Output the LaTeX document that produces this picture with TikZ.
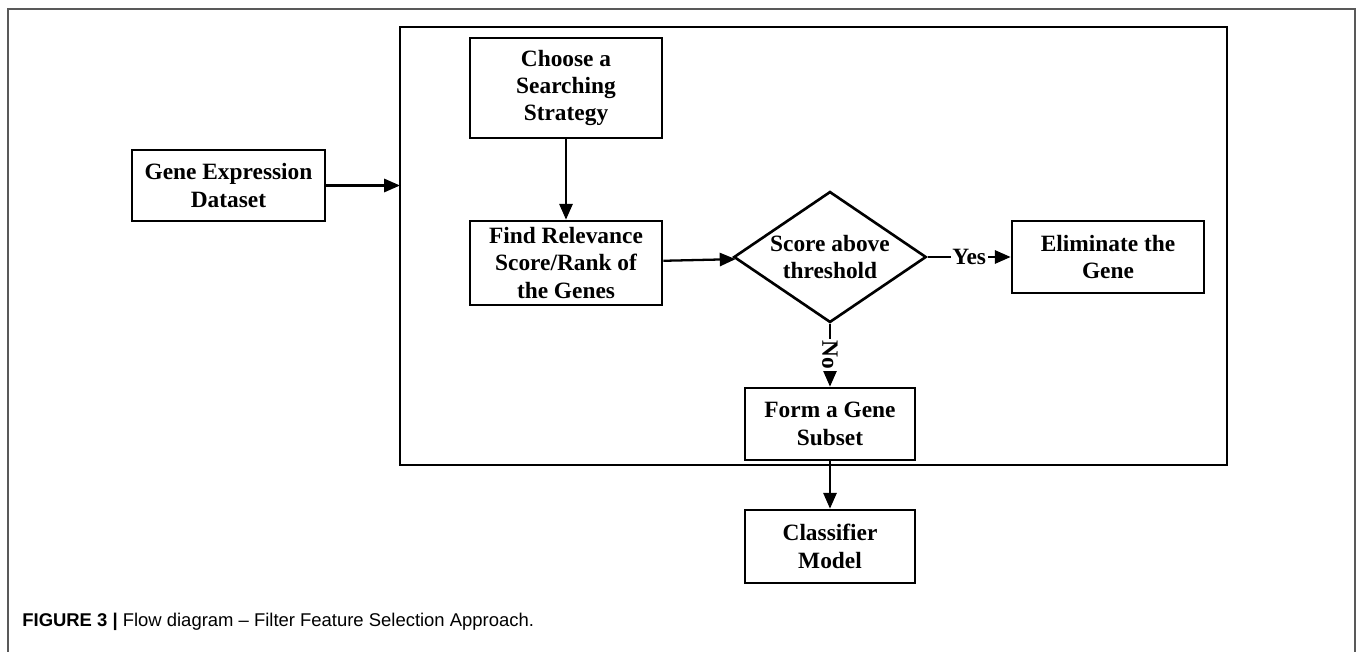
\documentclass[tikz,border=0pt]{standalone}
\usepackage{fontspec}
\setmainfont{Liberation Serif}
\setsansfont{Liberation Sans}
\usetikzlibrary{positioning}
\usetikzlibrary{shapes.geometric}
\usetikzlibrary{arrows.meta}

\begin{document}
\begin{tikzpicture}[x=0.02cm, y=-0.02cm,
    box/.style={draw, line width=1.5pt, align=center, inner sep=0pt,
        font=\fontsize{13.3}{15.5}\selectfont\bfseries},
    decision/.style={draw, diamond, line width=1.5pt, align=center, inner sep=1pt,
        aspect=1.47, font=\fontsize{13.3}{15.5}\selectfont\bfseries},
    link/.style={line width=1.3pt, -{Triangle[length=9pt, width=7.5pt]}},
    answer/.style={fill=white, inner sep=1pt, font=\fontsize{13.3}{15.5}\selectfont\bfseries}]
\useasboundingbox (0,0) rectangle (1357,652);
% frame
\draw[gray!70!black, line width=0.8pt] (8,652) -- (8,9) -- (1355,9) -- (1355,652);

% filter block
\draw[line width=1.5pt] (400,27) rectangle (1227,465);
\coordinate (blockin) at (400,185.5);

\node[box, minimum width=193*0.02cm, minimum height=71*0.02cm] (ged) at (228.5,185.5) {Gene Expression\\Dataset};
\node[box, minimum width=192*0.02cm, minimum height=100*0.02cm] (choose) at (566,88) {Choose a\\Searching\\Strategy};
\node[box, minimum width=192*0.02cm, minimum height=84*0.02cm] (find) at (566,263) {Find Relevance\\Score/Rank of\\the Genes};
\node[decision] (score) at (830,257) {Score above\\threshold};
\node[box, minimum width=192*0.02cm, minimum height=72*0.02cm] (elim) at (1108,257) {Eliminate the\\Gene};
\node[box, minimum width=170*0.02cm, minimum height=72*0.02cm] (form) at (830,424) {Form a Gene\\Subset};
\node[box, minimum width=170*0.02cm, minimum height=73*0.02cm] (clf) at (830,546.5) {Classifier\\Model};

\draw[link] (ged) -- (blockin);
\draw[link] (choose) -- (find);
\draw[link] (find) -- (score);
\draw[link] (score) -- node[answer] {Yes} (elim);
\draw[link] (score) -- node[answer, rotate=-90] {No} (form);
\draw[link] (form) -- (clf);

% caption
\node[anchor=base west, inner sep=0pt, font=\sffamily\fontsize{10.5}{12}\selectfont] (caption) at (22,626)
    {\textbf{FIGURE 3 |} Flow diagram -- Filter Feature Selection Approach.};
\end{tikzpicture}
\end{document}
